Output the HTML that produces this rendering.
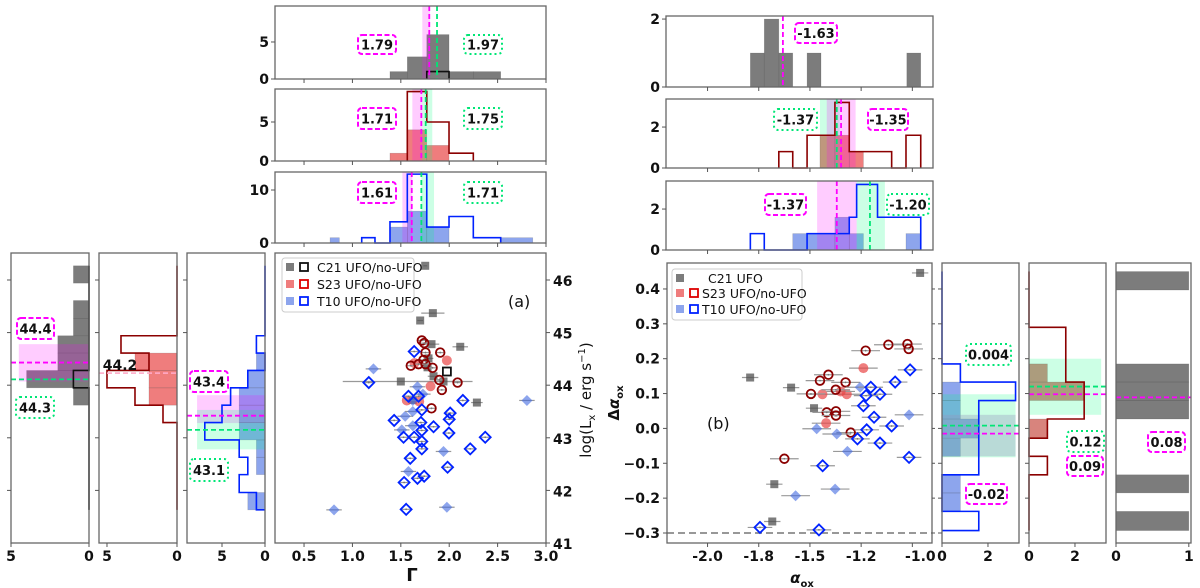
<!DOCTYPE html>
<html><head><meta charset="utf-8">
<style>
html,body{margin:0;padding:0;background:#fff;}
svg{display:block;font-family:"DejaVu Sans","Liberation Sans",sans-serif;}
text{font-size:14px;font-weight:bold;fill:#111;}
</style></head>
<body>
<svg id="fig" width="1200" height="588" viewBox="0 0 1200 588" xmlns="http://www.w3.org/2000/svg"></svg>
<script>
// ---------- DATA ----------
// Panel (a) scatter: photon index vs log Lx
const c21Gamma=[1.752,1.831,1.700,1.817,2.114,1.786,1.776,1.838,1.500,1.941,1.624,2.286];
const c21Lx=[46.27,45.37,45.23,44.78,44.73,44.51,44.34,44.17,44.07,44.07,43.72,43.67];
const c21GammaErr=[0.02,0.12,0.03,0.08,0.08,0.05,0.05,0.06,0.6,0.3,0.05,0.06];
const c21OpenGamma=[1.976];
const c21OpenLx=[44.26];
const s23FillGamma=[1.641,1.976,1.807,1.562,1.690];
const s23FillLx=[44.42,44.47,43.98,43.71,43.69];
const s23OpenGamma=[1.717,1.741,1.755,1.734,1.907,1.603,1.683,1.755,1.828,1.897,2.086,1.924,1.817];
const s23OpenLx=[44.85,44.80,44.62,44.48,44.62,44.37,44.40,44.40,44.33,44.10,44.05,43.91,43.56];
const t10FillGamma=[1.217,1.672,1.624,1.545,1.624,1.510,1.624,2.803,1.941,1.579,0.810,1.976,1.728];
const t10FillLx=[44.31,43.97,43.71,43.41,43.50,43.15,43.23,43.71,42.74,42.36,41.63,41.68,43.83];
const t10OpenGamma=[1.638,1.169,1.579,1.683,1.717,2.141,1.431,2.010,2.000,1.707,1.838,1.717,1.528,1.638,1.997,1.717,2.372,1.597,1.717,2.217,1.983,1.672,1.741,1.534,1.555];
const t10OpenLx=[44.64,44.05,43.79,43.79,43.53,43.71,43.33,43.47,43.35,43.29,43.21,43.14,43.01,43.01,43.09,42.93,43.01,42.61,42.79,42.79,42.44,42.23,42.27,42.15,41.64];
// Panel (b) scatter: alpha_ox vs delta alpha_ox
const c21Aox=[-0.962,-1.792,-1.592,-1.480,-1.674,-1.684];
const c21Daox=[0.446,0.146,0.117,0.058,-0.160,-0.267];
const s23FillAox=[-1.239,-1.439,-1.320,-1.350,-1.421];
const s23FillDaox=[0.173,0.098,0.098,0.106,0.015];
const s23OpenAox=[-1.117,-1.024,-1.018,-1.228,-1.410,-1.451,-1.326,-1.374,-1.495,-1.418,-1.373,-1.373,-1.301,-1.625];
const s23OpenDaox=[0.240,0.242,0.228,0.223,0.154,0.137,0.132,0.111,0.099,0.046,0.049,0.037,-0.012,-0.087];
const t10FillAox=[-1.255,-1.016,-1.467,-1.369,-1.317,-1.377,-1.570];
const t10FillDaox=[0.118,0.039,-0.001,-0.016,-0.066,-0.174,-0.193];
const t10OpenAox=[-1.011,-1.084,-1.203,-1.158,-1.226,-1.239,-1.187,-1.101,-1.223,-1.268,-1.158,-1.016,-1.438,-1.744,-1.456];
const t10OpenDaox=[0.168,0.133,0.118,0.098,0.094,0.065,0.032,0.007,-0.004,-0.030,-0.042,-0.083,-0.107,-0.284,-0.291];
// Top histograms (a)
const gTopC21FillEdges=[1.388,1.567,1.768,1.998,2.249,2.532];
const gTopC21FillCounts=[1,3,6,1,1];
const gTopC21OpenEdges=[1.768,1.998];
const gTopC21OpenCounts=[1];
const gTopS23FillEdges=[1.388,1.567,1.768,1.998];
const gTopS23FillCounts=[1,4,2];
const gTopS23OpenEdges=[1.567,1.768,1.998,2.249];
const gTopS23OpenCounts=[8.9,5,1];
const gTopT10FillEdges=[0.769,0.865,1.388,1.567,1.768,1.998,2.542,2.863];
const gTopT10FillCounts=[1,0,3,6,3,0,1];
const gTopT10OpenEdges=[1.096,1.233,1.388,1.567,1.768,1.998,2.249,2.532];
const gTopT10OpenCounts=[1,0,4,13,3,5,1];
// Left histograms (a): log Lx bins
const lxEdges=[41.63,41.96,42.30,42.63,42.96,43.29,43.62,43.95,44.28,44.61,44.94,45.27,45.61,45.94,46.27];
const lxC21Fill=[0,0,0,0,0,0,1,4,2,2,1,1,0,1];
const lxC21Open=[0,0,0,0,0,0,0,1,0,0,0,0,0,0];
const lxS23Fill=[0,0,0,0,0,0,2,2,3,0,0,0,0,0];
const lxS23Open=[0,0,0,0,0,1,3,5,2,4,0,0,0,0];
const lxT10Fill=[2,0,1,1,3,3,3,2,1,0,0,0,0,0];
const lxT10Open=[1,3,2,3,7,5,4,2,0,1,0,0,0,0];
// Top histograms (b)
const aTopC21Edges=[-1.791,-1.723,-1.652,-1.584,-1.514,-1.446,-1.027,-0.959];
const aTopC21Counts=[1,2,1,0,1,0,1];
const aTopS23FillEdges=[-1.451,-1.378,-1.308,-1.239];
const aTopS23FillCounts=[1.6,1.6,0.8];
const aTopS23OpenEdges=[-1.652,-1.584,-1.514,-1.378,-1.308,-1.101,-1.031,-0.959];
const aTopS23OpenCounts=[0.8,0,1.6,3.2,0.8,0,1.6];
const aTopT10FillEdges=[-1.584,-1.378,-1.308,-1.239,-1.031,-0.959];
const aTopT10FillCounts=[0.8,1.6,0.8,0,0.8];
const aTopT10OpenEdges=[-1.791,-1.723,-1.514,-1.378,-1.308,-1.272,-1.170,-0.959];
const aTopT10OpenCounts=[0.8,0,0.8,0.8,1.6,3.2,1.6];
// Right histograms (b): delta alpha_ox bins
const dEdges=[-0.293,-0.238,-0.185,-0.133,-0.080,-0.028,0.027,0.080,0.133,0.185,0.238,0.290,0.343,0.397,0.450];
const dT10Fill=[0,0.8,0.8,0,0.8,1.6,0.8,0.8,0,0,0,0,0,0];
const dT10Open=[1.6,0,0,1.6,1.6,1.6,1.6,3.2,0.8,0,0,0,0,0];
const dS23Fill=[0,0,0,0,0,0.8,0,2.4,0.8,0,0,0,0,0];
const dS23Open=[0,0,0,0.8,0,0.8,2.4,2.4,1.6,1.6,1.6,0,0,0];
const dC21Fill=[1,0,1,0,0,0,1,1,1,0,0,0,0,1];
// Ticks
const gammaTicks=[0.5,1.0,1.5,2.0,2.5,3.0];
const gammaTickLabels=["0.5","1.0","1.5","2.0","2.5","3.0"];
const lxTicks=[41,42,43,44,45,46];
const aoxTicks=[-2.0,-1.75,-1.5,-1.25,-1.0];
const aoxTickLabels=["-2.0","-1.8","-1.5","-1.2","-1.0"];
const daoxTicks=[-0.3,-0.2,-0.1,0.0,0.1,0.2,0.3,0.4];
const daoxTickLabels=["\u22120.3","\u22120.2","\u22120.1","0.0","0.1","0.2","0.3","0.4"];

// ---------- HELPERS ----------
const NS="http://www.w3.org/2000/svg";
const svg=document.getElementById('fig');
function mk(tag,attrs,name,parent){
  const e=document.createElementNS(NS,tag);
  for(const k in attrs) e.setAttribute(k,attrs[k]);
  
  
  (parent||svg).appendChild(e);
  return e;
}
function txt(x,y,s,name,opts){
  opts=opts||{};
  const a={x:x,y:y};
  if(opts.anchor) a['text-anchor']=opts.anchor;
  if(opts.size) a['style']='font-size:'+opts.size+'px;'+(opts.weight?'font-weight:'+opts.weight+';':'');
  if(opts.transform) a['transform']=opts.transform;
  const t=mk('text',a,name);
  t.textContent=s;
  return t;
}
function lin(d0,d1,r0,r1){return v=>r0+(v-d0)*(r1-r0)/(d1-d0);}
function frame(b,name){mk('rect',{x:b.x0,y:b.y0,width:b.x1-b.x0,height:b.y1-b.y0,fill:'none',stroke:'#666','stroke-width':1.3},name);}

const MAG='#ff00ff', GRN='#00e676';
const MAGBAND='rgba(255,0,255,0.2)', GRNBAND='rgba(0,255,127,0.2)';
const GRAY='rgba(80,80,80,0.75)', RED='rgba(232,70,70,0.7)', BLUE='rgba(65,105,225,0.6)';

// vertical histograms (bars up)
function vbars(xs,ys,edges,counts,fill,name){
  for(let i=0;i<counts.length;i++){ if(counts[i]<=0) continue;
    const x0=xs(edges[i]),x1=xs(edges[i+1]),y=ys(counts[i]),y0=ys(0);
    mk('rect',{x:x0,y:y,width:x1-x0,height:y0-y,fill:fill,stroke:'rgba(60,60,60,0.25)','stroke-width':0.6},name);
  }
}
function vstep(xs,ys,edges,counts,color,name){
  let d='M'+xs(edges[0])+','+ys(0);
  for(let i=0;i<counts.length;i++){d+=' L'+xs(edges[i])+','+ys(counts[i])+' L'+xs(edges[i+1])+','+ys(counts[i]);}
  d+=' L'+xs(edges[edges.length-1])+','+ys(0);
  mk('path',{d:d,fill:'none',stroke:color,'stroke-width':1.6},name);
}
function hbars(xs,ys,edges,counts,fill,name){
  for(let i=0;i<counts.length;i++){ if(counts[i]<=0) continue;
    const y0=ys(edges[i+1]),y1=ys(edges[i]),x=xs(counts[i]),x0=xs(0);
    mk('rect',{x:Math.min(x,x0),y:y0,width:Math.abs(x0-x),height:y1-y0,fill:fill,stroke:'rgba(60,60,60,0.25)','stroke-width':0.6},name);
  }
}
function hstep(xs,ys,edges,counts,color,name){
  let d='M'+xs(0)+','+ys(edges[0]);
  for(let i=0;i<counts.length;i++){d+=' L'+xs(counts[i])+','+ys(edges[i])+' L'+xs(counts[i])+','+ys(edges[i+1]);}
  d+=' L'+xs(0)+','+ys(edges[edges.length-1]);
  mk('path',{d:d,fill:'none',stroke:color,'stroke-width':1.6},name);
}
function vband(xs,b,a,c,col,name){mk('rect',{x:xs(a),y:b.y0,width:xs(c)-xs(a),height:b.y1-b.y0,fill:col},name);}
function vline(xs,b,v,col,name){mk('line',{x1:xs(v),x2:xs(v),y1:b.y0,y2:b.y1,stroke:col,'stroke-width':1.8,'stroke-dasharray':'5,3'},name);}
function hband(ys,xa,xb,a,c,col,name){mk('rect',{x:Math.min(xa,xb),y:ys(c),width:Math.abs(xb-xa),height:ys(a)-ys(c),fill:col},name);}
function hline(ys,b,v,col,name){mk('line',{x1:b.x0,x2:b.x1,y1:ys(v),y2:ys(v),stroke:col,'stroke-width':1.8,'stroke-dasharray':'5,3'},name);}
function tag(x0,y0,x1,y1,s,kind,name){
  const col=kind==='m'?MAG:GRN;
  mk('rect',{x:x0,y:y0,width:x1-x0,height:y1-y0,rx:4,fill:'#fff',stroke:col,'stroke-width':2,'stroke-dasharray':kind==='m'?'5,2.5':'2,3'},name+'-box');
  txt((x0+x1)/2,(y0+y1)/2+5,s,name,{anchor:'middle',size:13});
}
function xticksMarks(xs,b,vals,name){vals.forEach(v=>{if(xs(v)<b.x0-0.5||xs(v)>b.x1+0.5)return;mk('line',{x1:xs(v),x2:xs(v),y1:b.y1,y2:b.y1+4,stroke:'#555','stroke-width':1},name);});}
function yticksLeft(ys,b,vals,name){vals.forEach(v=>{mk('line',{x1:b.x0-4,x2:b.x0,y1:ys(v),y2:ys(v),stroke:'#555','stroke-width':1},name);});}

// ---------- PANEL (a) MAIN ----------
const A={x0:275,x1:546,y0:253,y1:543};
const ax=lin(0.2,3.0,A.x0,A.x1), ay=lin(41,46.513,A.y1,A.y0);
frame(A,'panel-a-frame');
gammaTicks.forEach((v,i)=>{
  mk('line',{x1:ax(v),x2:ax(v),y1:A.y1,y2:A.y1+4,stroke:'#555'},'gamma-tick');
  txt(ax(v),561,gammaTickLabels[i],'gamma-tick-label',{anchor:'middle'});
});
lxTicks.forEach(v=>{
  mk('line',{x1:A.x1,x2:A.x1+4,y1:ay(v),y2:ay(v),stroke:'#555'},'lx-tick');
  txt(553,ay(v)+6,String(v),'lx-tick-label');
});
txt(412,581,'\u0393','gamma-axis-title',{anchor:'middle',size:18});
(function(){const t=mk('text',{x:0,y:0,'text-anchor':'middle',transform:'translate(591,400) rotate(-90)',style:'font-size:15px;font-weight:normal'},'lx-axis-title');
t.innerHTML='log(L<tspan dy="4" style="font-size:10px">x</tspan><tspan dy="-4"> / erg s</tspan><tspan dy="-6" style="font-size:10px">\u22121</tspan><tspan dy="6">)</tspan>';})();
txt(508,307,'(a)','panel-a-label',{size:16,weight:'normal'});

function errX(xs,ys,xv,yv,e,name){mk('line',{x1:xs(xv-e),x2:xs(xv+e),y1:ys(yv),y2:ys(yv),stroke:'#999','stroke-width':1.2},name);}
function sq(x,y,fill,stroke,name){mk('rect',{x:x-4,y:y-4,width:8,height:8,fill:fill,stroke:stroke,'stroke-width':stroke==='none'?0:1.8},name);}
function circ(x,y,fill,stroke,name){mk('circle',{cx:x,cy:y,r:stroke==='none'?5:4.3,fill:fill,stroke:stroke,'stroke-width':stroke==='none'?0:1.8},name);}
function dia(x,y,fill,stroke,name){mk('path',{d:`M${x},${y-5.5} L${x+5.5},${y} L${x},${y+5.5} L${x-5.5},${y} Z`,fill:fill,stroke:stroke,'stroke-width':stroke==='none'?0:1.8},name);}
function dot(x,y){mk('circle',{cx:x,cy:y,r:0.9,fill:'#777'},'point-error-center');}

c21Gamma.forEach((g,i)=>{errX(ax,ay,g,c21Lx[i],c21GammaErr[i],'c21-error-bar');sq(ax(g),ay(c21Lx[i]),GRAY,'none','c21-ufo-point');});
c21OpenGamma.forEach((g,i)=>{sq(ax(g),ay(c21OpenLx[i]),'none','#111','c21-noufo-point');});
s23FillGamma.forEach((g,i)=>{circ(ax(g),ay(s23FillLx[i]),RED,'none','s23-ufo-point');});
s23OpenGamma.forEach((g,i)=>{errX(ax,ay,g,s23OpenLx[i],0.05,'s23-error-bar');circ(ax(g),ay(s23OpenLx[i]),'none','#8b0000','s23-noufo-point');dot(ax(g),ay(s23OpenLx[i]));});
t10FillGamma.forEach((g,i)=>{errX(ax,ay,g,t10FillLx[i],0.08,'t10-error-bar');dia(ax(g),ay(t10FillLx[i]),BLUE,'none','t10-ufo-point');});
t10OpenGamma.forEach((g,i)=>{errX(ax,ay,g,t10OpenLx[i],0.06,'t10-error-bar');dia(ax(g),ay(t10OpenLx[i]),'none','#0022ff','t10-noufo-point');dot(ax(g),ay(t10OpenLx[i]));});

// legend (a)
mk('rect',{x:282,y:258,width:132,height:54,rx:3,fill:'rgba(255,255,255,0.85)',stroke:'#ccc'},'legend-a-box');
sq(290,267,GRAY,'none','legend-a-c21-fill');sq(304,267,'none','#111','legend-a-c21-open');
txt(317,272,'C21 UFO/no-UFO','legend-a-c21-label',{size:12.5,weight:'normal'});
sq(290,284,RED,'none','legend-a-s23-fill');sq(304,284,'none','#dd0000','legend-a-s23-open');
txt(317,289,'S23 UFO/no-UFO','legend-a-s23-label',{size:12.5,weight:'normal'});
sq(290,301,BLUE,'none','legend-a-t10-fill');sq(304,301,'none','#0022ff','legend-a-t10-open');
txt(317,306,'T10 UFO/no-UFO','legend-a-t10-label',{size:12.5,weight:'normal'});

// ---------- TOP HISTS (a) ----------
function topA(b,ymax,fillE,fillC,fillCol,openE,openC,openCol,mb,mline,gb,gline,yt,name){
  const ys=lin(0,ymax,b.y1,b.y0);
  vbars(ax,ys,fillE,fillC,fillCol,name+'-fill-bar');
  if(mb) vband(ax,b,mb[0],mb[1],MAGBAND,name+'-magenta-band');
  if(gb) vband(ax,b,gb[0],gb[1],GRNBAND,name+'-green-band');
  if(openE) vstep(ax,ys,openE,openC,openCol,name+'-outline');
  vline(ax,b,mline,MAG,name+'-magenta-median');
  vline(ax,b,gline,GRN,name+'-green-median');
  frame(b,name+'-frame');
  xticksMarks(ax,b,gammaTicks,name+'-x-tick');
  yt.forEach(v=>{mk('line',{x1:b.x0-4,x2:b.x0,y1:ys(v),y2:ys(v),stroke:'#555'},name+'-y-tick');txt(b.x0-6,ys(v)+5,String(v),name+'-y-tick-label',{anchor:'end'});});
}
topA({x0:275,x1:546,y0:6,y1:79},9.86,gTopC21FillEdges,gTopC21FillCounts,GRAY,gTopC21OpenEdges,gTopC21OpenCounts,'#111',[1.722,1.802],1.794,null,1.874,[0,5],'top-hist-a-c21');
tag(358,35,396,54,'1.79','m','label-a-c21-median-magenta');tag(464,35,502,54,'1.97','g','label-a-c21-median-green');
topA({x0:275,x1:546,y0:89,y1:161},9.23,gTopS23FillEdges,gTopS23FillCounts,RED,gTopS23OpenEdges,gTopS23OpenCounts,'#8b0000',[1.619,1.722],1.712,[1.722,1.825],1.757,[0,5],'top-hist-a-s23');
tag(358,108,396,129,'1.71','m','label-a-s23-median-magenta');tag(464,108,502,129,'1.75','g','label-a-s23-median-green');
topA({x0:275,x1:546,y0:172,y1:243},13.4,gTopT10FillEdges,gTopT10FillCounts,BLUE,gTopT10OpenEdges,gTopT10OpenCounts,'#0022ff',[1.516,1.619],1.613,[1.712,1.843],1.712,[0,10],'top-hist-a-t10');
tag(358,182,396,203,'1.61','m','label-a-t10-median-magenta');tag(464,182,502,203,'1.71','g','label-a-t10-median-green');

// ---------- LEFT HISTS (a) ----------
function leftA(b,xmax,fillC,fillCol,openC,openCol,mb,mline,gb,gline,bandMax,xtv,name,lineCol){
  const xs=lin(0,xmax,b.x1,b.x0);
  hbars(xs,ay,lxEdges,fillC,fillCol,name+'-fill-bar');
  if(mb) hband(ay,xs(bandMax),b.x1,mb[0],mb[1],MAGBAND,name+'-magenta-band');
  if(gb) hband(ay,xs(bandMax),b.x1,gb[0],gb[1],GRNBAND,name+'-green-band');
  if(openC) hstep(xs,ay,lxEdges,openC,openCol,name+'-outline');
  if(mline!==null) hline(ay,b,mline,lineCol||MAG,name+'-magenta-median');
  if(gline!==null) hline(ay,b,gline,GRN,name+'-green-median');
  frame(b,name+'-frame');
  yticksLeft(ay,b,[42,43,44,45,46],name+'-y-tick');
  xtv.forEach(v=>{mk('line',{x1:xs(v),x2:xs(v),y1:b.y1,y2:b.y1+4,stroke:'#555'},name+'-x-tick');txt(xs(v),561,String(v),name+'-x-tick-label',{anchor:'middle'});});
}
leftA({x0:11,x1:89,y0:253,y1:543},5,lxC21Fill,GRAY,lxC21Open,'#111',[44.07,44.78],44.43,null,44.11,4.5,[5,0],'left-hist-a-c21');
tag(17,318,54,339,'44.4','m','label-a-c21-lx-magenta');tag(16,397,54,418,'44.3','g','label-a-c21-lx-green');
leftA({x0:99,x1:177,y0:253,y1:543},5.57,lxS23Fill,RED,lxS23Open,'#8b0000',null,44.23,null,null,0,[5,0],'left-hist-a-s23','rgba(255,170,200,0.9)');
txt(120,370,'44.2','label-a-s23-lx',{anchor:'middle',size:14});
leftA({x0:187,x1:265,y0:253,y1:543},9.07,lxT10Fill,BLUE,lxT10Open,'#0022ff',[43.28,43.81],43.42,[42.78,43.53],43.15,7.9,[5,0],'left-hist-a-t10');
tag(190,371,228,392,'43.4','m','label-a-t10-lx-magenta');tag(190,459,228,481,'43.1','g','label-a-t10-lx-green');

// ---------- PANEL (b) MAIN ----------
const B={x0:667,x1:932,y0:263,y1:543};
const bx=lin(-2.198,-0.904,B.x0,B.x1), by=lin(-0.3287,0.4745,B.y1,B.y0);
mk('line',{x1:B.x0,x2:B.x1,y1:by(-0.3),y2:by(-0.3),stroke:'#777','stroke-width':1.6,'stroke-dasharray':'7,4'},'threshold-line');
frame(B,'panel-b-frame');
aoxTicks.forEach((v,i)=>{mk('line',{x1:bx(v),x2:bx(v),y1:B.y1,y2:B.y1+4,stroke:'#555'},'aox-tick');txt(bx(v)+(i===4?8:0),561,aoxTickLabels[i],'aox-tick-label',{anchor:'middle'});});
daoxTicks.forEach((v,i)=>{mk('line',{x1:B.x0-4,x2:B.x0,y1:by(v),y2:by(v),stroke:'#555'},'daox-tick');mk('line',{x1:B.x1,x2:B.x1+3,y1:by(v),y2:by(v),stroke:'#555'},'daox-tick-right');txt(660,by(v)+5,daoxTickLabels[i],'daox-tick-label',{anchor:'end'});});
(function(){const t=mk('text',{x:802,y:583,'text-anchor':'middle',style:'font-size:15px'},'aox-axis-title');t.innerHTML='<tspan style="font-style:italic">\u03b1</tspan><tspan dy="4" style="font-size:10px">ox</tspan>';})();
(function(){const t=mk('text',{x:0,y:0,'text-anchor':'middle',transform:'translate(619,403) rotate(-90)',style:'font-size:15px'},'daox-axis-title');t.innerHTML='\u0394<tspan style="font-style:italic">\u03b1</tspan><tspan dy="4" style="font-size:10px">ox</tspan>';})();
txt(707,429,'(b)','panel-b-label',{size:16,weight:'normal'});

c21Aox.forEach((a,i)=>{errX(bx,by,a,c21Daox[i],0.04,'c21-b-error-bar');sq(bx(a),by(c21Daox[i]),GRAY,'none','c21-b-point');});
s23FillAox.forEach((a,i)=>{errX(bx,by,a,s23FillDaox[i],0.07,'s23-b-error-bar');circ(bx(a),by(s23FillDaox[i]),RED,'none','s23-b-ufo-point');});
s23OpenAox.forEach((a,i)=>{errX(bx,by,a,s23OpenDaox[i],0.07,'s23-b-error-bar');circ(bx(a),by(s23OpenDaox[i]),'none','#8b0000','s23-b-noufo-point');dot(bx(a),by(s23OpenDaox[i]));});
t10FillAox.forEach((a,i)=>{errX(bx,by,a,t10FillDaox[i],0.07,'t10-b-error-bar');dia(bx(a),by(t10FillDaox[i]),BLUE,'none','t10-b-ufo-point');});
t10OpenAox.forEach((a,i)=>{errX(bx,by,a,t10OpenDaox[i],0.06,'t10-b-error-bar');dia(bx(a),by(t10OpenDaox[i]),'none','#0022ff','t10-b-noufo-point');dot(bx(a),by(t10OpenDaox[i]));});

mk('rect',{x:672,y:269,width:130,height:51,rx:3,fill:'rgba(255,255,255,0.85)',stroke:'#ccc'},'legend-b-box');
sq(680,278,GRAY,'none','legend-b-c21-fill');
txt(708,283,'C21 UFO','legend-b-c21-label',{size:12.5,weight:'normal'});
sq(680,293,RED,'none','legend-b-s23-fill');sq(694,293,'none','#dd0000','legend-b-s23-open');
txt(702,298,'S23 UFO/no-UFO','legend-b-s23-label',{size:12.5,weight:'normal'});
sq(680,309,BLUE,'none','legend-b-t10-fill');sq(694,309,'none','#0022ff','legend-b-t10-open');
txt(702,314,'T10 UFO/no-UFO','legend-b-t10-label',{size:12.5,weight:'normal'});

// ---------- TOP HISTS (b) ----------
function topB(b,ymax,fillE,fillC,fillCol,openE,openC,openCol,mb,mline,gb,gline,name){
  const ys=lin(0,ymax,b.y1,b.y0);
  vbars(bx,ys,fillE,fillC,fillCol,name+'-fill-bar');
  if(gb) vband(bx,b,gb[0],gb[1],GRNBAND,name+'-green-band');
  if(mb) vband(bx,b,mb[0],mb[1],MAGBAND,name+'-magenta-band');
  if(openE) vstep(bx,ys,openE,openC,openCol,name+'-outline');
  if(mline!==null) vline(bx,b,mline,MAG,name+'-magenta-median');
  if(gline!==null) vline(bx,b,gline,GRN,name+'-green-median');
  frame(b,name+'-frame');
  xticksMarks(bx,b,aoxTicks,name+'-x-tick');
  [0,2].forEach(v=>{mk('line',{x1:b.x0-4,x2:b.x0,y1:ys(v),y2:ys(v),stroke:'#555'},name+'-y-tick');txt(b.x0-6,ys(v)+5,String(v),name+'-y-tick-label',{anchor:'end'});});
}
topB({x0:666,x1:933,y0:16,y1:87},2.09,aTopC21Edges,aTopC21Counts,GRAY,null,null,null,null,-1.632,null,null,'top-hist-b-c21');
tag(795,23,837,43,'-1.63','m','label-b-c21-aox-magenta');
topB({x0:666,x1:933,y0:99,y1:168},3.37,aTopS23FillEdges,aTopS23FillCounts,RED,aTopS23OpenEdges,aTopS23OpenCounts,'#8b0000',[-1.418,-1.277],-1.348,[-1.451,-1.355],-1.369,'top-hist-b-s23');
tag(774,109,817,130,'-1.37','g','label-b-s23-aox-green');tag(868,109,908,130,'-1.35','m','label-b-s23-aox-magenta');
topB({x0:666,x1:933,y0:181,y1:250},3.37,aTopT10FillEdges,aTopT10FillCounts,BLUE,aTopT10OpenEdges,aTopT10OpenCounts,'#0022ff',[-1.465,-1.272],-1.369,[-1.272,-1.134],-1.207,'top-hist-b-t10');
tag(765,194,806,215,'-1.37','m','label-b-t10-aox-magenta');tag(887,194,929,215,'-1.20','g','label-b-t10-aox-green');

// ---------- RIGHT HISTS (b) ----------
function rightB(b,xmax,fillC,fillCol,openC,openCol,mb,mline,gb,gline,bandMax,xtv,name,ticks){
  const xs=lin(0,xmax,b.x0,b.x1);
  hbars(xs,by,dEdges,fillC,fillCol,name+'-fill-bar');
  if(gb) hband(by,b.x0,xs(bandMax),gb[0],gb[1],GRNBAND,name+'-green-band');
  if(mb) hband(by,b.x0,xs(bandMax),mb[0],mb[1],'rgba(150,150,190,0.35)',name+'-magenta-band');
  if(openC) hstep(xs,by,dEdges,openC,openCol,name+'-outline');
  if(gline!==null) hline(by,b,gline,GRN,name+'-green-median');
  if(mline!==null) hline(by,b,mline,MAG,name+'-magenta-median');
  frame(b,name+'-frame');
  if(ticks) daoxTicks.forEach(v=>{mk('line',{x1:b.x0-4,x2:b.x0,y1:by(v),y2:by(v),stroke:'#555'},name+'-y-tick');});
  xtv.forEach(v=>{mk('line',{x1:xs(v),x2:xs(v),y1:b.y1,y2:b.y1+4,stroke:'#555'},name+'-x-tick');txt(xs(v),561,String(v),name+'-x-tick-label',{anchor:'middle'});});
}
rightB({x0:942,x1:1019,y0:263,y1:543},3.35,dT10Fill,BLUE,dT10Open,'#0022ff',[-0.080,0.039],-0.015,[-0.083,0.098],0.008,3.2,[0,2],'right-hist-b-t10',true);
tag(966,344,1011,365,'0.004','g','label-b-t10-daox-green');tag(966,484,1007,504,'-0.02','m','label-b-t10-daox-magenta');
rightB({x0:1029,x1:1106,y0:263,y1:543},3.35,dS23Fill,'rgba(200,80,70,0.7)',dS23Open,'#8b0000',null,0.098,[0.039,0.200],0.120,3.14,[0,2],'right-hist-b-s23',true);
tag(1067,431,1104,452,'0.12','g','label-b-s23-daox-green');tag(1067,456,1103,476,'0.09','m','label-b-s23-daox-magenta');
rightB({x0:1116,x1:1191,y0:263,y1:543},1.03,dC21Fill,GRAY,null,null,null,0.089,null,null,0,[0,1],'right-hist-b-c21',false);
tag(1148,432,1185,452,'0.08','m','label-b-c21-daox-magenta');
</script>
</body></html>
